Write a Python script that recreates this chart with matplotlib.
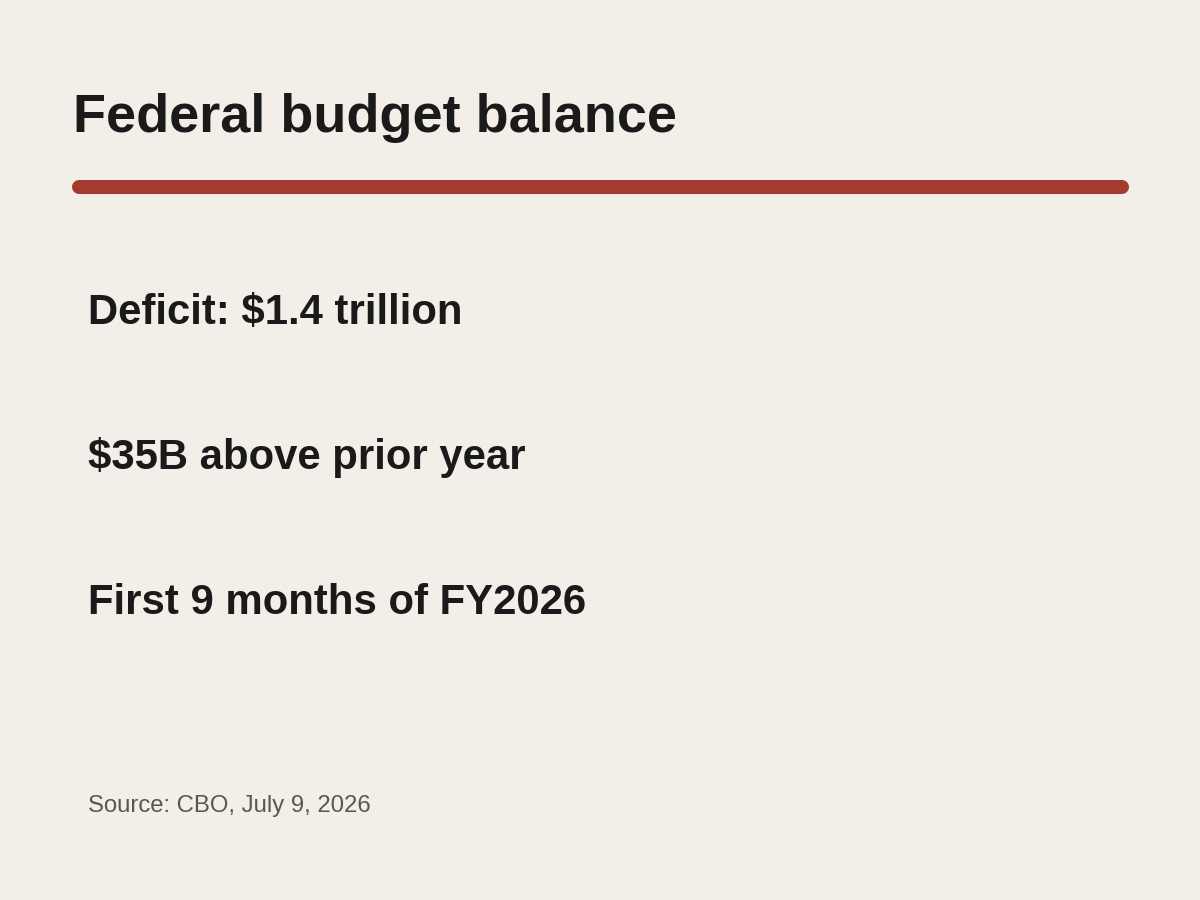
import matplotlib.pyplot as plt
from matplotlib.lines import Line2D

plt.rcParams['font.family'] = ['Liberation Sans', 'DejaVu Sans']

title = "Federal budget balance"
stats = ["Deficit: $1.4 trillion", "$35B above prior year", "First 9 months of FY2026"]
source = "Source: CBO, July 9, 2026"

bg = "#f3efe8"
ink = "#1a1a1a"
accent = "#a33b2e"

W, H = 1200, 900
fig = plt.figure(figsize=(12, 9), dpi=100, facecolor=bg)

# title
fig.text(73 / W, 1 - 132 / H, title, fontsize=38.9, fontweight="bold",
         color=ink, va="baseline", ha="left")

# red rule under the title
fig.add_artist(Line2D([79 / W, 1122 / W], [1 - 187 / H, 1 - 187 / H],
                      transform=fig.transFigure, color=accent, lw=10.1,
                      solid_capstyle="round"))

# the three stat lines
y = 324
for s in stats:
    fig.text(88 / W, 1 - y / H, s, fontsize=30.2, fontweight="bold",
             color=ink, va="baseline", ha="left")
    y += 145

fig.text(88 / W, 1 - 812 / H, source, fontsize=17.2, color="#5a5650",
         va="baseline", ha="left")

fig.savefig("out.png", dpi=100, facecolor=bg)
